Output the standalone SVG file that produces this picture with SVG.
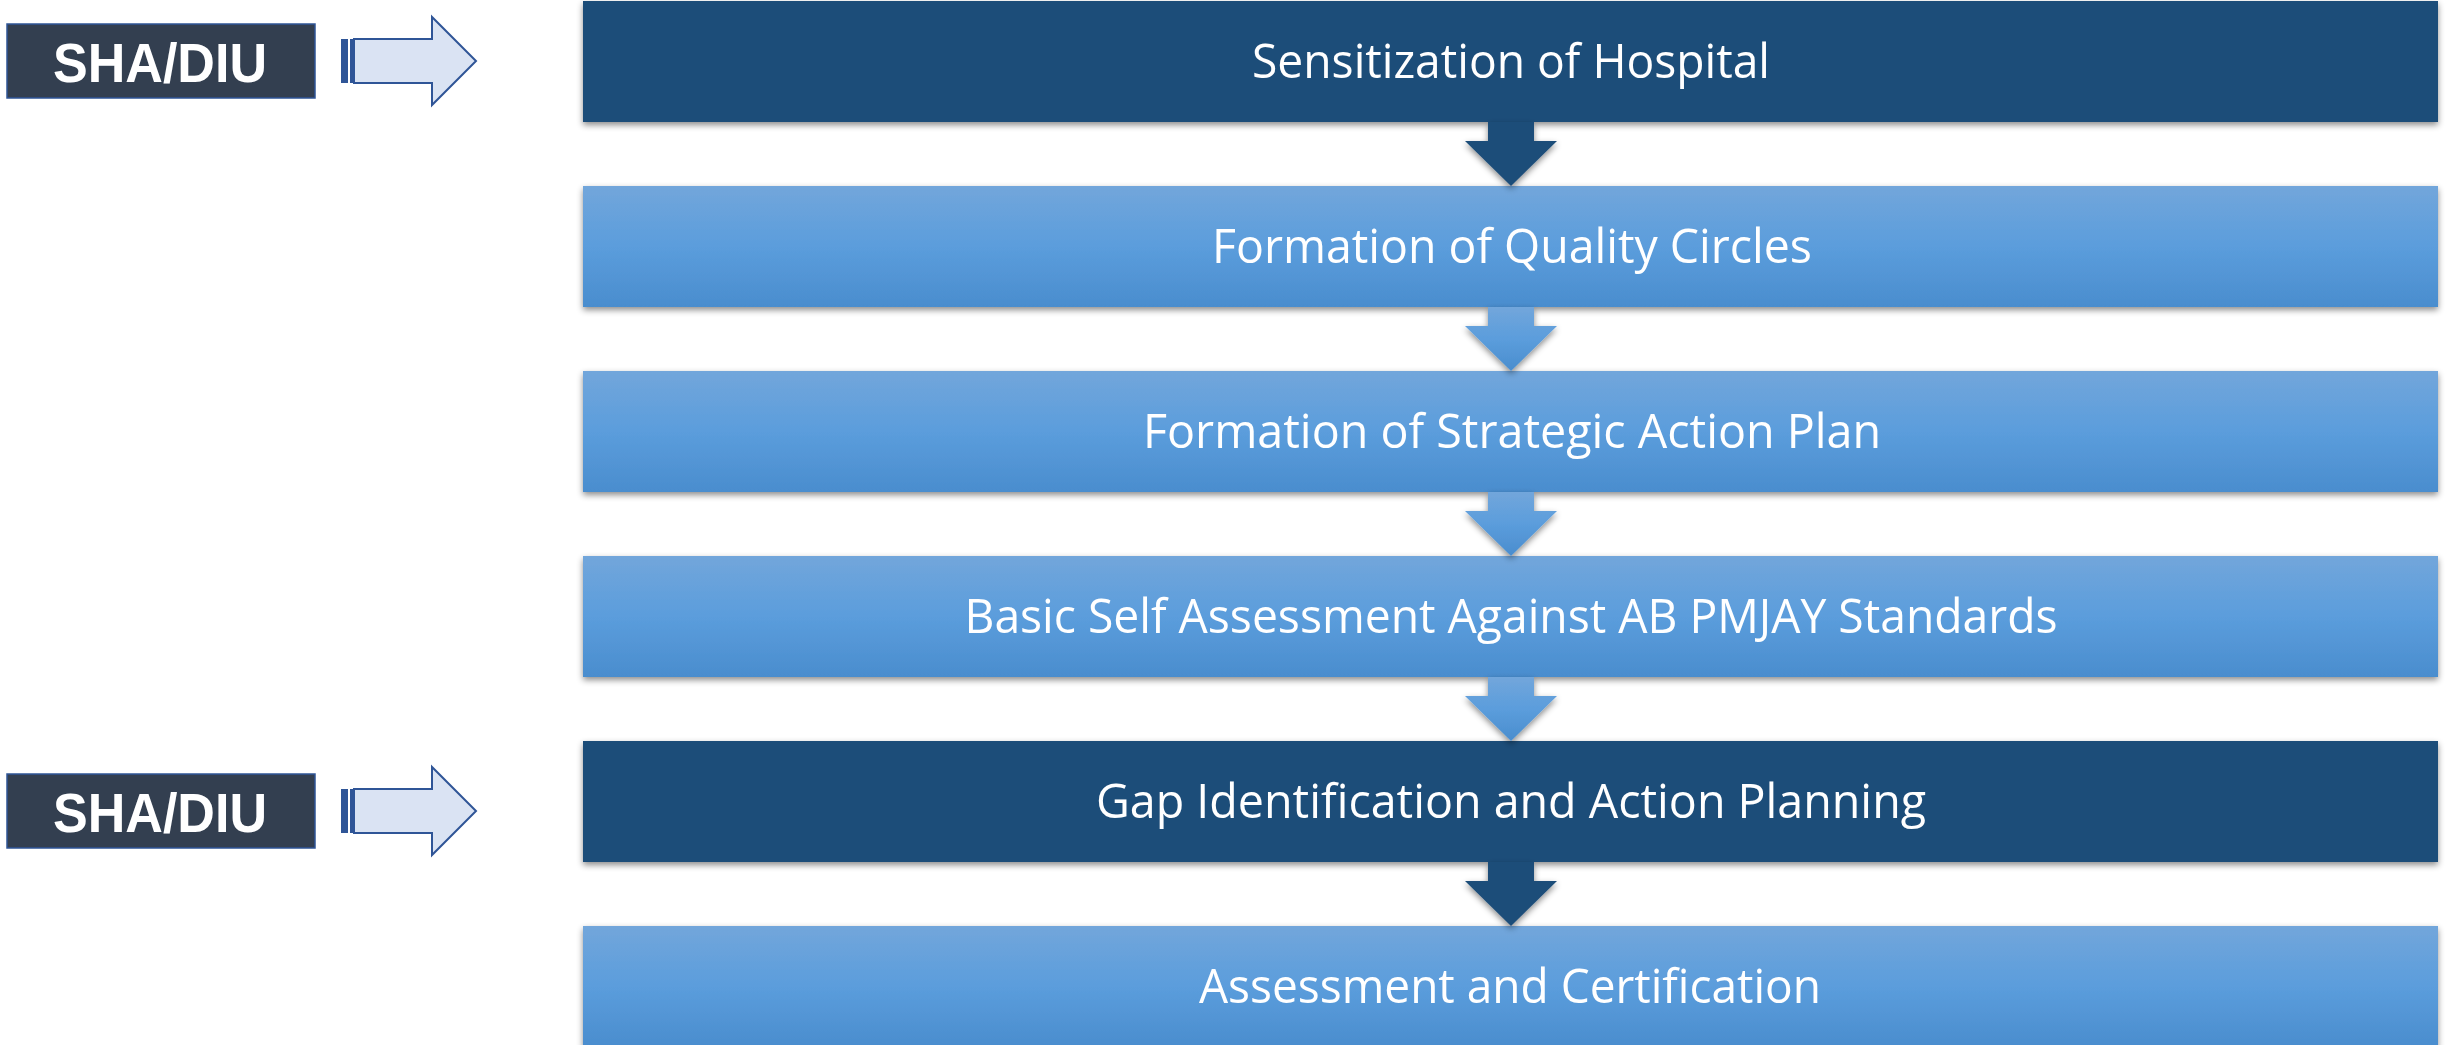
<svg xmlns="http://www.w3.org/2000/svg" width="2445" height="1045" viewBox="0 0 2445 1045">
  <defs>
    <linearGradient id="lightFill" x1="0" y1="0" x2="0" y2="1">
      <stop offset="0" stop-color="#72A6DB"/>
      <stop offset="0.5" stop-color="#5B9DDC"/>
      <stop offset="1" stop-color="#4A8DCE"/>
    </linearGradient>
    <filter id="shadow" x="-5%" y="-20%" width="110%" height="150%">
      <feDropShadow dx="0" dy="3" stdDeviation="3" flood-color="#000" flood-opacity="0.45"/>
    </filter>
    <filter id="arrowShadow" x="-30%" y="-30%" width="160%" height="170%">
      <feDropShadow dx="0" dy="3" stdDeviation="3" flood-color="#000" flood-opacity="0.45"/>
    </filter>
    <!-- down chevron arrow, origin at top of shaft centre -->
    <path id="downArrow" d="M-23,0 H23 V19 H46 L0,64 L-46,19 H-23 Z"/>
    <!-- striped right arrow used beside the SHA/DIU labels -->
    <g id="sideArrow">
      <polygon points="354,39 432,39 432,17 476,61 432,105 432,83 354,83" fill="#DAE3F3" stroke="#2F5597" stroke-width="2" stroke-linejoin="miter"/>
      <rect x="341" y="39" width="7" height="44" fill="#2F5597"/>
      <rect x="350" y="39" width="3" height="44" fill="#2F5597"/>
    </g>
  </defs>
  <style>
    .dark { fill: #1F4E79; }
    .light { fill: url(#lightFill); }
    .step { font-family: "Open Sans", "Noto Sans", sans-serif; font-size: 48px; fill: #FFFFFF; text-anchor: middle; }
    .tag { fill: #333F50; stroke: #2F5597; stroke-width: 1.5; }
    .tagText { font-family: "Liberation Sans", Arial, sans-serif; font-weight: bold; font-size: 56px; fill: #FFFFFF; text-anchor: middle; }
  </style>

  <rect width="2445" height="1045" fill="#FFFFFF"/>

  <!-- process steps -->
  <g id="step1" filter="url(#shadow)">
    <rect class="dark" x="583" y="1" width="1855" height="121"/>
    <text class="step" x="1511" y="78" textLength="518" lengthAdjust="spacingAndGlyphs">Sensitization of Hospital</text>
  </g>
  <g id="step2" filter="url(#shadow)">
    <rect class="light" x="583" y="186" width="1855" height="121"/>
    <text class="step" x="1512" y="263" textLength="600" lengthAdjust="spacingAndGlyphs">Formation of Quality Circles</text>
  </g>
  <g id="step3" filter="url(#shadow)">
    <rect class="light" x="583" y="371" width="1855" height="121"/>
    <text class="step" x="1512" y="448" textLength="738" lengthAdjust="spacingAndGlyphs">Formation of Strategic Action Plan</text>
  </g>
  <g id="step4" filter="url(#shadow)">
    <rect class="light" x="583" y="556" width="1855" height="121"/>
    <text class="step" x="1511" y="633" textLength="1093" lengthAdjust="spacingAndGlyphs">Basic Self Assessment Against AB PMJAY Standards</text>
  </g>
  <g id="step5" filter="url(#shadow)">
    <rect class="dark" x="583" y="741" width="1855" height="121"/>
    <text class="step" x="1511" y="818" textLength="830" lengthAdjust="spacingAndGlyphs">Gap Identification and Action Planning</text>
  </g>
  <g id="step6" filter="url(#shadow)">
    <rect class="light" x="583" y="926" width="1855" height="121"/>
    <text class="step" x="1510" y="1003" textLength="622" lengthAdjust="spacingAndGlyphs">Assessment and Certification</text>
  </g>

  <!-- connectors between steps -->
  <g id="connectors">
    <use href="#downArrow" class="dark" x="1511" y="122" filter="url(#arrowShadow)"/>
    <use href="#downArrow" class="light" x="1511" y="307" filter="url(#arrowShadow)"/>
    <use href="#downArrow" class="light" x="1511" y="492" filter="url(#arrowShadow)"/>
    <use href="#downArrow" class="light" x="1511" y="677" filter="url(#arrowShadow)"/>
    <use href="#downArrow" class="dark" x="1511" y="862" filter="url(#arrowShadow)"/>
    <use href="#sideArrow" x="0" y="0"/>
    <use href="#sideArrow" x="0" y="750"/>
  </g>

  <!-- responsible party labels -->
  <g id="tag1">
    <rect class="tag" x="7" y="24" width="308" height="74"/>
    <text class="tagText" x="160" y="82" textLength="214" lengthAdjust="spacingAndGlyphs">SHA/DIU</text>
  </g>
  <g id="tag2">
    <rect class="tag" x="7" y="774" width="308" height="74"/>
    <text class="tagText" x="160" y="832" textLength="214" lengthAdjust="spacingAndGlyphs">SHA/DIU</text>
  </g>
</svg>
